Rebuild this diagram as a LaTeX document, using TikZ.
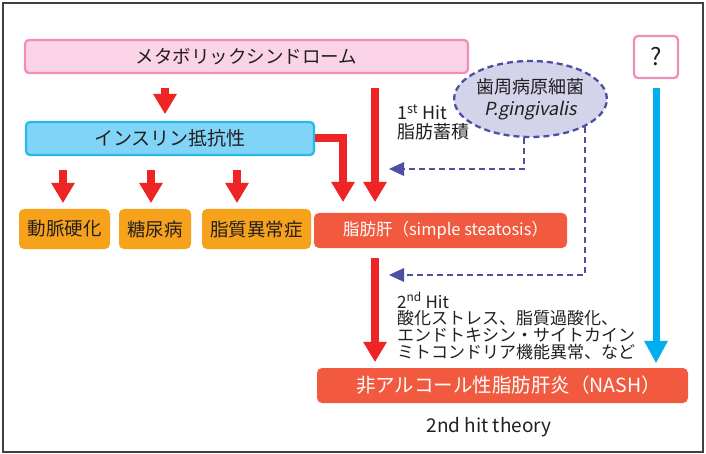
\documentclass[tikz,border=0pt]{standalone}
\usepackage{fontspec}
\setmainfont{Noto Sans CJK JP}[ItalicFont=Noto Sans CJK JP, ItalicFeatures={FakeSlant=0.2}]
\usetikzlibrary{arrows.meta,shapes.geometric,calc}
\definecolor{ared}{HTML}{EE2524}
\definecolor{orng}{HTML}{F7A21B}
\definecolor{flred}{HTML}{F15A3F}
\definecolor{pinkfill}{HTML}{FAD4E6}
\definecolor{pinkline}{HTML}{F18DBA}
\definecolor{bluefill}{HTML}{80D4F7}
\definecolor{blueline}{HTML}{25B8EC}
\definecolor{cyanarr}{HTML}{00AEEF}
\definecolor{lav}{HTML}{D3D3EA}
\definecolor{navy}{HTML}{4E4FA3}
\definecolor{txt}{HTML}{231F20}
\tikzset{
  boxbase/.style={rectangle, inner sep=0pt, text=txt},
  metabox/.style={boxbase, draw=pinkline, fill=pinkfill, line width=2.2pt, rounded corners=4pt,
    minimum width=443pt, minimum height=33pt, font=\fontsize{18.5}{20}\selectfont},
  insbox/.style={boxbase, draw=blueline, fill=bluefill, line width=2.2pt, rounded corners=4pt,
    minimum width=288pt, minimum height=33pt, font=\fontsize{19}{20}\selectfont},
  obox/.style={boxbase, fill=orng, rounded corners=5pt, minimum height=40pt,
    font=\fontsize{18.5}{20}\selectfont},
  redbox/.style={boxbase, fill=flred, text=white, rounded corners=5pt, minimum height=35pt},
  qbox/.style={boxbase, draw=pinkline, fill=white, line width=2.2pt, rounded corners=4pt,
    minimum width=44pt, minimum height=42pt, font=\fontsize{24}{26}\selectfont},
  bactell/.style={ellipse, draw=navy, fill=lav, line width=2.3pt, dash pattern=on 6pt off 4pt,
    minimum width=139pt, minimum height=76pt, inner sep=0pt, align=center, text=txt,
    font=\fontsize{18}{22}\selectfont},
  redarrow/.style={draw=ared, line width=8pt, line join=miter,
    -{Triangle[length=20pt,width=24pt,line width=0pt]}},
  bluearrow/.style={draw=cyanarr, line width=7pt,
    -{Triangle[length=22pt,width=24pt,line width=0pt]}},
  dasharrow/.style={draw=navy, line width=2.3pt, dash pattern=on 6pt off 4pt,
    -{Triangle[length=15pt,width=14pt,line width=0pt]}},
  notetext/.style={inner sep=0pt, align=left, text=txt, anchor=west}
}
\begin{document}
\begin{tikzpicture}[x=1pt,y=-1pt]
\useasboundingbox (0,0) rectangle (706,454);
\draw[line width=1.5pt, draw=black!75] (3,3) rectangle (703,452);

% nodes
\node[metabox] (meta) at (246.5,56.5) {メタボリックシンドローム};
\node[insbox] (ins) at (170,138.5) {インスリン抵抗性};
\node[obox, minimum width=91pt] (o1) at (64.5,229) {動脈硬化};
\node[obox, minimum width=72pt] (o2) at (155,229) {糖尿病};
\node[obox, minimum width=109pt] (o3) at (256.5,229) {脂質異常症};
\node[redbox, minimum width=253pt, font=\fontsize{16.5}{18}\selectfont] (fl) at (440.5,230.5) {\kern10pt脂肪肝（simple steatosis）};
\node[redbox, minimum width=371pt, font=\fontsize{19.5}{21}\selectfont] (nash) at (502.5,385.5) {\kern12pt非アルコール性脂肪肝炎（NASH）};
\node[qbox] (q) at (656,57) {?};
\node[bactell] (ell) at (530.5,99) {歯周病原細菌\\\textit{P.gingivalis}};

\node[notetext, font=\fontsize{18}{19}\selectfont] (hit1) at (397,122.5) {1\textsuperscript{st} Hit\\脂肪蓄積};
\node[notetext, font=\fontsize{17}{16.7}\selectfont] (hit2) at (397,326) {2\textsuperscript{nd} Hit\\酸化ストレス、脂質過酸化、\\エンドトキシン・サイトカイン\\ミトコンドリア機能異常、など};
\node[inner sep=0pt, text=txt, font=\fontsize{19}{20}\selectfont] (theory) at (489,427) {2nd hit theory};

% helper columns
\coordinate (c1) at (165,0);
\coordinate (c2) at (343,0);
\coordinate (c3) at (375,0);
\coordinate (a1) at (63,0);
\coordinate (a2) at (151,0);
\coordinate (a3) at (237,0);
\coordinate (e1) at (524,0);
\coordinate (t1) at (389,169);
\coordinate (t2) at (389,275);

% red arrows
\draw[redarrow, shorten <=14pt, shorten >=7pt] (c1 |- meta.south) -- (c1 |- ins.north);
\draw[redarrow, shorten >=11pt] (ins.east) -| (c2 |- fl.north);
\draw[redarrow, shorten <=14pt, shorten >=11pt] (c3 |- meta.south) -- (c3 |- fl.north);
\draw[redarrow, shorten <=10pt, shorten >=6pt] (c3 |- fl.south) -- (c3 |- nash.north);
\draw[redarrow, shorten <=14pt, shorten >=6pt] (a1 |- ins.south) -- (a1 |- o1.north);
\draw[redarrow, shorten <=14pt, shorten >=6pt] (a2 |- ins.south) -- (a2 |- o2.north);
\draw[redarrow, shorten <=14pt, shorten >=6pt] (a3 |- ins.south) -- (a3 |- o3.north);

% blue arrow
\draw[bluearrow, shorten <=9pt, shorten >=5pt] (q.south) -- (q.south |- nash.north);

% dashed arrows
\draw[dasharrow] (e1 |- ell.south) |- (t1);
\draw[dasharrow] (ell.-27) |- (t2);
\end{tikzpicture}
\end{document}
